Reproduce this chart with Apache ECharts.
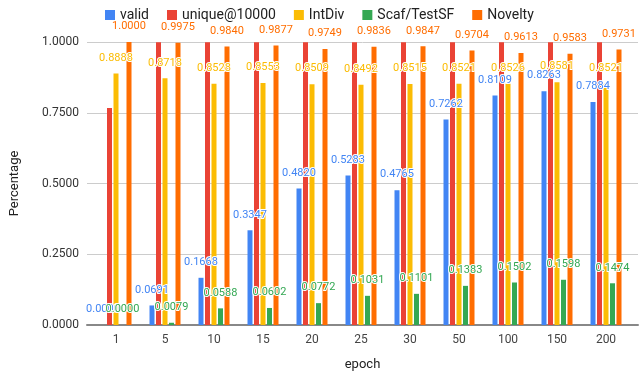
<!DOCTYPE html>
<html>
<head>
<meta charset="utf-8">
<script src="https://cdn.jsdelivr.net/npm/echarts@6/dist/echarts.min.js"></script>
<style>
  html, body { margin: 0; padding: 0; background: #fff; }
  #chart { width: 640px; height: 385px; }
</style>
</head>
<body>
<div id="chart"></div>
<script>
const epochs = ['1', '5', '10', '15', '20', '25', '30', '50', '100', '150', '200'];
const valid = [0.0000, 0.0691, 0.1668, 0.3347, 0.4820, 0.5283, 0.4765, 0.7262, 0.8109, 0.8263, 0.7884];
const unique10k = [0.767, 0.999, 0.999, 0.999, 0.999, 0.999, 0.999, 0.999, 0.999, 0.999, 0.999];
const intDiv = [0.8888, 0.8718, 0.8528, 0.8553, 0.8509, 0.8492, 0.8515, 0.8521, 0.8526, 0.8581, 0.8521];
const scafTestSF = [0.0000, 0.0079, 0.0588, 0.0602, 0.0772, 0.1031, 0.1101, 0.1383, 0.1502, 0.1598, 0.1474];
const novelty = [1.0000, 0.9975, 0.9840, 0.9877, 0.9749, 0.9836, 0.9847, 0.9704, 0.9613, 0.9583, 0.9731];

const names = ['valid', 'unique@10000', 'IntDiv', 'Scaf/TestSF', 'Novelty'];
const colors = ['#4285F4', '#EA4335', '#FBBC04', '#34A853', '#FF6D01'];
const allData = [valid, unique10k, intDiv, scafTestSF, novelty];
const labelled = [true, false, true, true, true];

const chart = echarts.init(document.getElementById('chart'), null, { renderer: 'canvas' });

// bars on xAxis 1, labels drawn again on xAxis 2 (own layer) so they sit above every bar
const series = [];
allData.forEach((d, i) => {
  series.push({
    name: names[i],
    type: 'bar',
    xAxisIndex: 1,
    yAxisIndex: 1,
    data: d,
    barWidth: 5,
    barGap: '30%',
    itemStyle: { color: colors[i] },
    z: 2
  });
});
allData.forEach((d, i) => {
  series.push({
    name: 'lbl_' + names[i],
    type: 'bar',
    xAxisIndex: 2,
    yAxisIndex: 1,
    data: d,
    barWidth: 5,
    barGap: '30%',
    silent: true,
    itemStyle: { color: 'rgba(0,0,0,0)' },
    zlevel: 1,
    z: 5,
    label: {
      show: labelled[i],
      position: 'top',
      distance: 10,
      color: colors[i],
      fontSize: 11,
      fontFamily: 'Roboto',
      textBorderColor: '#fff',
      textBorderWidth: 2,
      formatter: p => p.value.toFixed(4)
    }
  });
});

chart.setOption({
  animation: false,
  textStyle: { fontFamily: 'Roboto' },
  legend: {
    top: 3,
    left: 100,
    itemWidth: 10,
    itemHeight: 10,
    itemGap: 18,
    icon: 'rect',
    textStyle: { fontSize: 14, color: '#222', fontFamily: 'Roboto' },
    data: names
  },
  grid: [
    { left: 83, right: 2, top: 42, bottom: 60 },
    { left: 91.5, right: 9.5, top: 42, bottom: 60 }
  ],
  xAxis: [
    {
      type: 'category',
      gridIndex: 0,
      data: epochs,
      name: 'epoch',
      nameLocation: 'middle',
      nameGap: 33,
      nameTextStyle: { fontSize: 13, color: '#222' },
      axisTick: { show: false },
      axisLabel: { show: false },
      axisLine: { lineStyle: { color: '#888', width: 2 } }
    },
    {
      type: 'category',
      gridIndex: 1,
      data: epochs,
      axisTick: { show: false },
      axisLine: { show: false },
      axisLabel: { fontSize: 12, color: '#444', margin: 9 }
    },
    {
      type: 'category',
      gridIndex: 1,
      data: epochs,
      show: false
    }
  ],
  yAxis: [
    {
      type: 'value',
      gridIndex: 0,
      min: 0,
      max: 1,
      interval: 0.25,
      name: 'Percentage',
      nameLocation: 'middle',
      nameGap: 66,
      nameTextStyle: { fontSize: 13, color: '#222' },
      axisLabel: { fontSize: 12, color: '#333', margin: 8, formatter: v => v.toFixed(4) },
      splitLine: { lineStyle: { color: '#ccc' } }
    },
    {
      type: 'value',
      gridIndex: 1,
      min: 0,
      max: 1,
      show: false
    }
  ],
  series: series
});
</script>
</body>
</html>
